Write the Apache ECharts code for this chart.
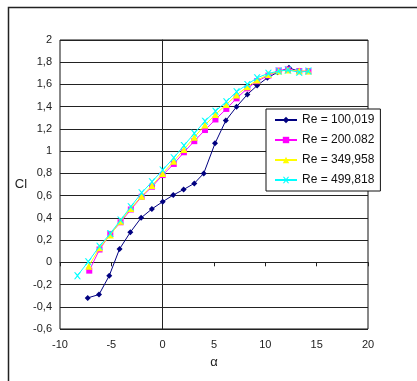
<!DOCTYPE html>
<html>
<head>
<meta charset="utf-8">
<script src="https://cdn.jsdelivr.net/npm/echarts@6/dist/echarts.min.js"></script>
<style>
html,body{margin:0;padding:0;background:#fff;}
#chart{width:417px;height:381px;}
</style>
</head>
<body>
<div id="chart"></div>
<script>
// ---- Data ----
var seriesNames = ['Re = 100,019', 'Re = 200.082', 'Re = 349,958', 'Re = 499,818'];

var alphaA = [-7.3,-6.2,-5.2,-4.2,-3.15,-2.1,-1.05,0,1.03,2.04,3.08,4.0,5.1,6.15,7.2,8.25,9.2,10.2,11.2,12.3,13.2];
var clA    = [-0.32,-0.29,-0.12,0.12,0.27,0.40,0.48,0.545,0.605,0.655,0.71,0.80,1.07,1.275,1.40,1.51,1.59,1.66,1.71,1.75,1.72];

var alphaB = [-7.15,-6.15,-5.1,-4.1,-3.1,-2.05,-1.04,0,1.08,2.07,3.08,4.12,5.14,6.2,7.2,8.25,9.2,10.3,11.3,12.2,13.3,14.2];
var clB    = [-0.075,0.115,0.255,0.36,0.475,0.59,0.68,0.785,0.885,0.99,1.09,1.19,1.285,1.38,1.475,1.565,1.63,1.68,1.725,1.735,1.72,1.72];

var alphaC = [-7.2,-6.15,-5.1,-4.1,-3.1,-2.05,-1.04,0,1.08,2.07,3.08,4.12,5.14,6.2,7.2,8.25,9.2,10.3,11.3,12.2,13.3,14.2];
var clC    = [-0.035,0.13,0.245,0.37,0.485,0.595,0.69,0.80,0.91,1.015,1.125,1.235,1.33,1.42,1.505,1.58,1.64,1.69,1.72,1.73,1.72,1.72];

var alphaD = [-8.3,-7.25,-6.15,-5.1,-4.1,-3.1,-2.05,-1.04,0,1.08,2.07,3.08,4.12,5.14,6.2,7.2,8.25,9.2,10.3,11.3,12.2,13.3,14.2];
var clD    = [-0.12,0.005,0.145,0.26,0.38,0.50,0.625,0.725,0.83,0.94,1.05,1.16,1.27,1.36,1.445,1.535,1.60,1.66,1.70,1.72,1.73,1.71,1.72];

var xTicks = {min: -10, max: 20, interval: 5};
var yTicks = {min: -0.6, max: 2, interval: 0.2};

function pairs(xs, ys){ return xs.map(function(x,i){ return [x, ys[i]]; }); }

var colors = ['#000080', '#FF00FF', '#FFFF00', '#00FFFF'];
var symbols = ['diamond', 'rect', 'triangle', 'path://M0,0L2,0L5,3.5L8,0L10,0L6,5L10,10L8,10L5,6.5L2,10L0,10L4,5Z'];
var sizes = [6, 6, 7, 7];
var dataSets = [pairs(alphaA, clA), pairs(alphaB, clB), pairs(alphaC, clC), pairs(alphaD, clD)];

var chart = echarts.init(document.getElementById('chart'), null, {renderer: 'canvas'});
var font = 'Liberation Sans, Arial, sans-serif';

var series = dataSets.map(function(d, i){
  return {
    name: seriesNames[i],
    type: 'line',
    xAxisIndex: 0, yAxisIndex: 0,
    data: d,
    symbol: symbols[i],
    symbolSize: sizes[i],
    showAllSymbol: true,
    lineStyle: {color: colors[i], width: 1},
    itemStyle: {color: colors[i], borderWidth: 0},
    emphasis: {disabled: true},
    animation: false,
    z: 3 + i
  };
});

chart.setOption({
  animation: false,
  color: colors,
  graphic: [{
    type: 'rect', silent: true, z: 0,
    shape: {x: 8.5, y: 7.5, width: 600, height: 600},
    style: {fill: 'none', stroke: '#222', lineWidth: 1.5}
  }],
  grid: {left: 60, top: 40, width: 308, height: 289, show: true, borderColor: '#111', borderWidth: 1, backgroundColor: 'transparent'},
  legend: {
    orient: 'vertical',
    left: 266, top: 109,
    width: 110,
    padding: [5, 6, 5, 8],
    itemGap: 8,
    itemWidth: 22, itemHeight: 8,
    borderColor: '#111', borderWidth: 1,
    backgroundColor: '#fff',
    textStyle: {fontFamily: font, fontSize: 12, color: '#111'},
    data: seriesNames,
    z: 10
  },
  xAxis: [{
    type: 'value', min: xTicks.min, max: xTicks.max, interval: xTicks.interval,
    position: 'bottom',
    axisLine: {show: false, onZero: false},
    axisTick: {show: false},
    splitLine: {show: false},
    axisLabel: {fontFamily: font, fontSize: 11, color: '#222', margin: 10},
    name: 'α', nameLocation: 'middle', nameGap: 27,
    nameTextStyle: {fontFamily: font, fontSize: 13, color: '#222'}
  }, {
    type: 'value', min: xTicks.min, max: xTicks.max, interval: xTicks.interval,
    position: 'bottom',
    axisLine: {show: true, onZero: true, onZeroAxisIndex: 0, lineStyle: {color: '#222', width: 1}},
    axisTick: {show: true, length: 4, lineStyle: {color: '#222'}},
    axisLabel: {show: false},
    splitLine: {show: false}
  }],
  yAxis: [{
    type: 'value', min: yTicks.min, max: yTicks.max, interval: yTicks.interval,
    position: 'left',
    axisLine: {show: false, onZero: false},
    axisTick: {show: false},
    splitLine: {show: true, lineStyle: {color: '#222', width: 1}},
    axisLabel: {
      fontFamily: font, fontSize: 11, color: '#222', margin: 8,
      formatter: function(v){ return String(Math.round(v*10)/10).replace('.', ','); }
    },
    name: 'Cl', nameLocation: 'middle', nameRotate: 0, nameGap: 28,
    nameTextStyle: {fontFamily: font, fontSize: 13, color: '#222'}
  }, {
    type: 'value', min: yTicks.min, max: yTicks.max, interval: yTicks.interval,
    position: 'left',
    axisLine: {show: true, onZero: true, onZeroAxisIndex: 0, lineStyle: {color: '#222', width: 1}},
    axisTick: {show: false},
    axisLabel: {show: false},
    splitLine: {show: false}
  }],
  series: series
});
</script>
</body>
</html>
